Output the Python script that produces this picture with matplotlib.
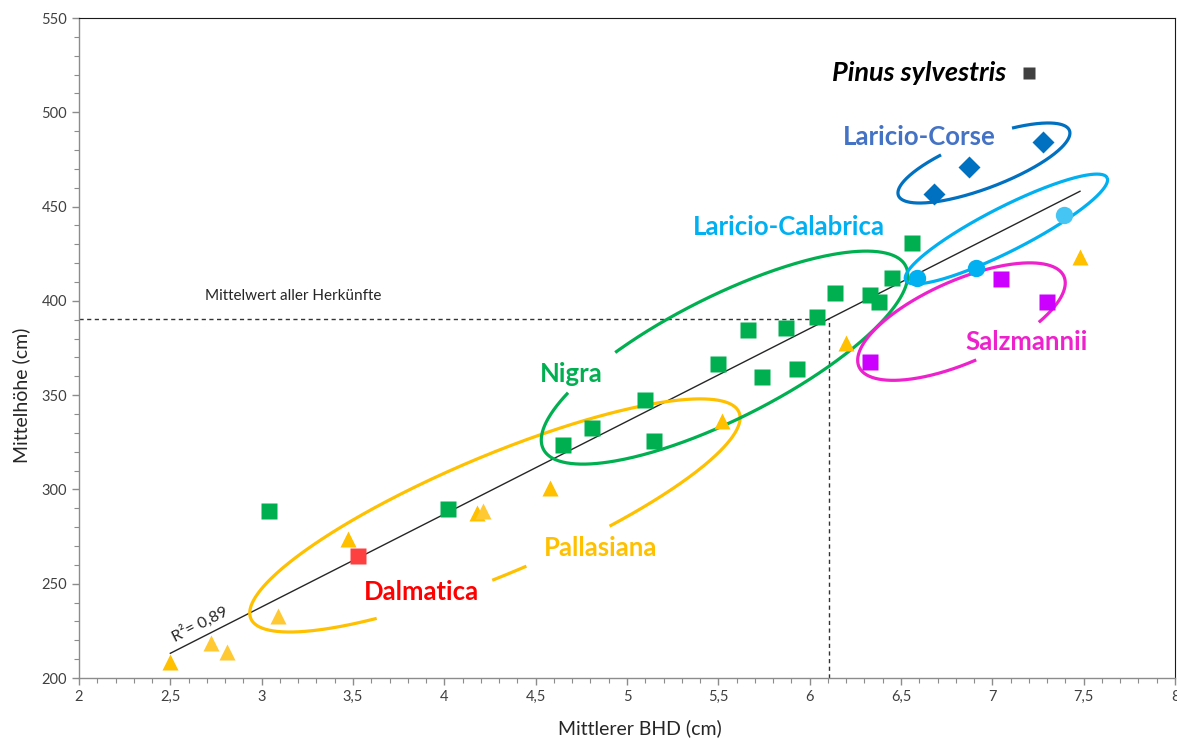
import numpy as np
import matplotlib.pyplot as plt
from matplotlib.ticker import MultipleLocator, FuncFormatter

plt.rcParams['font.family'] = ['Lato', 'DejaVu Sans']

# --- data ---
pall_x = [2.50, 4.58, 4.18, 5.52, 6.20, 7.48, 3.47]
pall_y = [208.6, 300.5, 287.6, 336.3, 377.8, 423.4, 273.5]
pall2_x = [2.72, 2.81, 3.09, 4.21]
pall2_y = [218.4, 213.9, 233.0, 288.7]
nigra_x = [3.04, 4.02, 4.65, 4.81, 5.10, 5.15, 5.50, 5.66, 5.74, 5.87, 5.93, 6.04, 6.14, 6.33, 6.38, 6.45, 6.56]
nigra_y = [288.5, 289.6, 323.5, 332.7, 347.4, 325.7, 366.3, 384.3, 359.7, 385.7, 363.9, 391.4, 404.0, 402.9, 399.5, 412.2, 430.5]
calab_x = [6.59, 6.91]
calab_y = [412.2, 417.2]
calab2_x = [7.39]
calab2_y = [445.3]
corse_x = [6.68, 6.87, 7.28]
corse_y = [456.5, 470.8, 484.1]
salz_x = [6.33, 7.05, 7.30]
salz_y = [367.7, 411.6, 399.5]
dalm_x = [3.53]
dalm_y = [264.7]

trend_slope = 49.2
trend_intercept = 90.1
trend_range = [2.5, 7.48]
mean_bhd = 6.108
mean_hoehe = 390.6
r2 = 0.89

fig = plt.figure(figsize=(11.77, 7.40), dpi=100)
ax = fig.add_axes([79/1177, 1 - 678/740, 1096/1177, 660/740])
ax.set_xlim(2, 8)
ax.set_ylim(200, 550)

# mean lines
ax.plot([2, mean_bhd], [mean_hoehe, mean_hoehe], color='#333333', lw=1, ls=(0, (3, 2.5)), zorder=2)
ax.plot([mean_bhd, mean_bhd], [200, mean_hoehe], color='#333333', lw=1, ls=(0, (3, 2.5)), zorder=2)
ax.text(2.69, 402.5, 'Mittelwert aller Herkünfte', fontsize=11, color='#262626', ha='left', va='center')

# trend line
tx = np.array(trend_range)
ax.plot(tx, trend_slope * tx + trend_intercept, color='#262626', lw=1, zorder=3)
ax.text(2.66, 228.5, 'R²= ' + f'{r2:.2f}'.replace('.', ','), fontsize=11.5, color='#262626',
        rotation=27, ha='center', va='center', rotation_mode='anchor')

# points
ax.plot(pall_x, pall_y, '^', ms=11.5, color='#FFC000', mec='none', zorder=4)
ax.plot(pall2_x, pall2_y, '^', ms=11.5, color='#FFC934', mec='none', zorder=4)
ax.plot(nigra_x, nigra_y, 's', ms=11, color='#00B050', mec='none', zorder=4)
ax.plot(calab_x, calab_y, 'o', ms=12.5, color='#00B0F0', mec='none', zorder=4)
ax.plot(calab2_x, calab2_y, 'o', ms=12.5, color='#44C5F3', mec='none', zorder=4)
ax.plot(corse_x, corse_y, 'D', ms=11, color='#0070C0', mec='none', zorder=4)
ax.plot(salz_x, salz_y, 's', ms=11, color='#CC00FF', mec='none', zorder=4)
ax.plot(dalm_x, dalm_y, 's', ms=11, color='#FF4040', mec='none', zorder=4)

# rings drawn in pixel space so they look like the hand drawn ovals
bb = ax.get_window_extent()
sx = bb.width / 6.0
sy = bb.height / 350.0


def ring(cx, cy, a, b, ang, t0, t1, color):
    t = np.radians(np.linspace(t0, t1, 400))
    th = np.radians(ang)
    du = a * np.cos(t)
    dv = b * np.sin(t)
    dx = du * np.cos(th) - dv * np.sin(th)
    dy = du * np.sin(th) + dv * np.cos(th)
    ax.plot(cx + dx / sx, cy + dy / sy, color=color, lw=2.3, solid_capstyle='butt', zorder=3)


ring(4.277, 286.2, 265, 59, 22.9, -67.5, 235.8, '#FFC000')
ring(4.277, 286.2, 265, 59, 22.9, -96, -88, '#FFC000')
ring(5.534, 369.9, 203, 61, 26.8, 140, 478, '#00B050')
ring(7.077, 438.1, 113, 22, 27.0, 0, 360, '#00B0F0')
ring(6.954, 473.1, 91.5, 25, 20.8, 114, 425, '#0070C0')
ring(6.831, 389.0, 112, 41, 23.8, -51, 269, '#EE22CC')

# group labels
ax.text(6.122, 520.8, 'Pinus sylvestris', fontsize=19.5, fontweight='bold', fontstyle='italic',
        color='black', ha='left', va='center')
ax.plot([7.201], [520.8], 's', ms=8, color='#404040', mec='none')
ax.text(6.598, 486.9, 'Laricio-Corse', fontsize=18.5, fontweight='bold', color='#4472C4', ha='center', va='center')
ax.text(5.887, 439.1, 'Laricio-Calabrica', fontsize=18.5, fontweight='bold', color='#00B0F0', ha='center', va='center')
ax.text(4.693, 361.2, 'Nigra', fontsize=18.5, fontweight='bold', color='#00B050', ha='center', va='center')
ax.text(4.858, 268.9, 'Pallasiana', fontsize=18.5, fontweight='bold', color='#FFC000', ha='center', va='center')
ax.text(3.872, 245.6, 'Dalmatica', fontsize=18.5, fontweight='bold', color='#FF0000', ha='center', va='center')
ax.text(7.190, 378.2, 'Salzmannii', fontsize=18.5, fontweight='bold', color='#EE22CC', ha='center', va='center')

# axes styling
ax.xaxis.set_major_locator(MultipleLocator(0.5))
ax.xaxis.set_minor_locator(MultipleLocator(0.1))
ax.yaxis.set_major_locator(MultipleLocator(50))
ax.yaxis.set_minor_locator(MultipleLocator(10))
ax.xaxis.set_major_formatter(FuncFormatter(lambda v, p: f'{v:g}'.replace('.', ',')))
ax.yaxis.set_major_formatter(FuncFormatter(lambda v, p: f'{v:g}'))
ax.tick_params(which='both', direction='out', colors='#8C8C8C', labelcolor='#404040', labelsize=10.5)
ax.tick_params(which='major', length=5, width=1)
ax.tick_params(which='minor', length=3.5, width=0.8)
for s in ['left', 'bottom']:
    ax.spines[s].set_color('#8C8C8C')
    ax.spines[s].set_linewidth(1)
for s in ['top', 'right']:
    ax.spines[s].set_color('#1A1A1A')
    ax.spines[s].set_linewidth(0.8)

ax.set_xlabel('Mittlerer BHD (cm)', fontsize=14, color='#262626')
ax.set_ylabel('Mittelhöhe (cm)', fontsize=14, color='#262626')
ax.xaxis.set_label_coords((640 - 79) / 1096, -(719 - 678) / 660)
ax.yaxis.set_label_coords(-(79 - 30) / 1096, (678 - 395) / 660)

fig.savefig('out.png', dpi=100)
